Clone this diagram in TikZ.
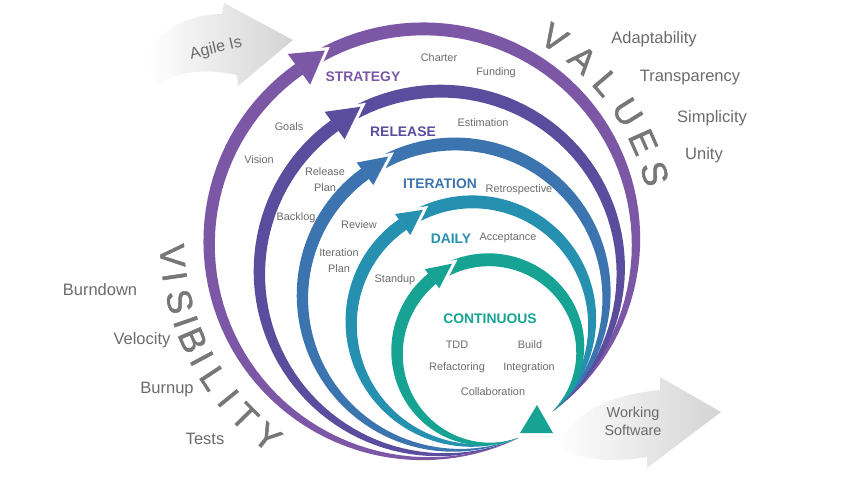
\documentclass[tikz,border=0pt]{standalone}
\usepackage{fontspec}
\setmainfont{Liberation Sans}
\newfontfamily\bigletters[FakeBold=1.4]{Liberation Sans}
\definecolor{strategyc}{HTML}{7B57A6}
\definecolor{releasec}{HTML}{5A4D9E}
\definecolor{iterationc}{HTML}{3C74AF}
\definecolor{dailyc}{HTML}{2690B1}
\definecolor{contc}{HTML}{17A394}
\definecolor{txtgray}{HTML}{6B6B6B}
\definecolor{biggray}{HTML}{777777}
\begin{document}
\begin{tikzpicture}[x=0.02cm, y=-0.02cm,
    lbl/.style={text=txtgray, font=\fontsize{6.2}{9}\selectfont, align=center, inner sep=0pt},
    phase/.style={font=\fontsize{7.9}{9}\selectfont\bfseries, inner sep=0pt},
    side/.style={text=txtgray, font=\fontsize{9.4}{11}\selectfont, inner sep=0pt},
    bigl/.style={text=biggray, font=\bigletters\fontsize{20}{20}\selectfont, inner sep=0pt},
    swoosh/.style={left color=white, right color=black!17},
    declare function={
      st(\t)=(\az-\t)/(\az-\ah);
      sb(\t)=(\ah-\t)/(\ah-\ax);
      rt(\t)=\rz+(\rr-\rz)*st(\t);
      wt(\t)=\bw*sin(90*st(\t));
      rb(\t)=\rr+(\rx-\rr)*sb(\t)^2;
      wb(\t)=\bw*(1-sb(\t)^3);
    }]
  \useasboundingbox (0,0) rectangle (850,478);
  \pgfmathsetmacro{\bw}{13}
  % gray arrows
  \shade[swoosh] (148,50) .. controls (165,25) and (195,14) .. (222,14) -- (224,3) -- (293,40)
    -- (238,86) -- (237,75) .. controls (205,68) and (175,72) .. (158,84) .. controls (146,74) .. (148,50) -- cycle;
  \shade[swoosh] (556,447) .. controls (572,415) and (605,395) .. (660,390) -- (660,377) -- (721,412)
    -- (647,468) -- (647,457) .. controls (612,463) and (580,460) .. (556,447) -- cycle;
  \node[text=txtgray, font=\fontsize{9.2}{11}\selectfont, rotate=13] (agile) at (216,49) {Agile Is};
  \node[text=txtgray, font=\fontsize{8.2}{10.2}\selectfont, align=center] (working) at (633,421) {Working\\Software};
  % rings, outside in
  \foreach \cx/\cy/\rr/\col/\az/\rz/\ah/\hw/\hl/\ax/\rx in {
      423/240/211/strategyc/295.6/220/126/19/32/-53/215,
      441/272/181/releasec/294.9/183/126/17/32/-51/178.5,
      455/295/151/iterationc/293.8/156/126.6/14/29/-50/152,
      472/320/118/dailyc/291.3/126.6/126/13/25/-48/122,
      491/357/98/contc/288.4/85.4/127/12/25/-41/82}{
    % tail
    \fill[\col] plot[variable=\t, domain=\az:\ah, samples=60] ({\cx+(rt(\t)+wt(\t)/2)*cos(\t)}, {\cy-(rt(\t)+wt(\t)/2)*sin(\t)})
      -- plot[variable=\t, domain=\ah:\az, samples=60] ({\cx+(rt(\t)-wt(\t)/2)*cos(\t)}, {\cy-(rt(\t)-wt(\t)/2)*sin(\t)}) -- cycle;
    % body
    \fill[\col] plot[variable=\t, domain=\ah:\ax, samples=60] ({\cx+(rb(\t)+wb(\t)/2)*cos(\t)}, {\cy-(rb(\t)+wb(\t)/2)*sin(\t)})
      -- plot[variable=\t, domain=\ax:\ah, samples=60] ({\cx+(rb(\t)-wb(\t)/2)*cos(\t)}, {\cy-(rb(\t)-wb(\t)/2)*sin(\t)}) -- cycle;
    % head
    \coordinate (ho) at ({\cx+(\rr+\hw)*cos(\ah)}, {\cy-(\rr+\hw)*sin(\ah)});
    \coordinate (hi) at ({\cx+(\rr-\hw)*cos(\ah)}, {\cy-(\rr-\hw)*sin(\ah)});
    \coordinate (ht) at ({\cx+\rr*cos(\ah)+\hl*sin(\ah)}, {\cy-\rr*sin(\ah)+\hl*cos(\ah)});
    \draw[white, line width=3.5pt, line join=miter] (ho) -- (ht) -- (hi);
    \fill[\col] (ho) -- (ht) -- (hi) -- cycle;
  }
  \fill[contc] (537,405) -- (553,433) -- (520,433) -- cycle;
  % phases and practices
  \node[phase, text=strategyc] (strategy) at (363,77) {STRATEGY};
  \node[lbl] (charter) at (439,58) {Charter};
  \node[lbl] (funding) at (496,73) {Funding};
  \node[lbl] (goals) at (289,127) {Goals};
  \node[lbl] (vision) at (259,160) {Vision};
  \node[phase, text=releasec] (release) at (403,132) {RELEASE};
  \node[lbl] (estimation) at (483,123) {Estimation};
  \node[lbl] (releaseplan) at (325,180) {Release\\Plan};
  \node[phase, text=iterationc] (iteration) at (440,184) {ITERATION};
  \node[lbl] (retro) at (519,190) {Retrospective};
  \node[lbl] (backlog) at (296,218) {Backlog};
  \node[lbl] (review) at (359,225) {Review};
  \node[phase, text=dailyc] (daily) at (451,239) {DAILY};
  \node[lbl] (acceptance) at (508,238) {Acceptance};
  \node[lbl] (iterplan) at (339,261) {Iteration\\Plan};
  \node[lbl] (standup) at (395,280) {Standup};
  \node[phase, text=contc] (continuous) at (490,319) {CONTINUOUS};
  \node[lbl] (tdd) at (457,345) {TDD};
  \node[lbl] (build) at (530,345) {Build};
  \node[lbl] (refactoring) at (457,368) {Refactoring};
  \node[lbl] (integration) at (529,368) {Integration};
  \node[lbl] (collab) at (493,392) {Collaboration};
  % values and visibility
  \node[side] (adapt) at (654,39) {Adaptability};
  \node[side] (transp) at (690,78) {Transparency};
  \node[side] (simpl) at (712,118) {Simplicity};
  \node[side] (unity) at (704,155) {Unity};
  \node[side] (burndown) at (100,290) {Burndown};
  \node[side] (velocity) at (142,340) {Velocity};
  \node[side] (burnup) at (167,390) {Burnup};
  \node[side] (tests) at (205,439) {Tests};
  \foreach \ch/\ang [count=\i] in {V/57, A/48.5, L/40.5, U/32, E/24, S/16}
    \node[bigl, rotate=\ang-90] (val\i) at ({423+241*cos(\ang)}, {240-241*sin(\ang)}) {\ch};
  \foreach \ch/\ang [count=\i] in {V/183.6, I/188.4, S/194.2, I/199, B/203.5, I/208.2, L/213.4, I/219.1, T/224.7, Y/231.7}
    \node[bigl, rotate=\ang+90] (vis\i) at ({423+251*cos(\ang)}, {240-251*sin(\ang)}) {\ch};
\end{tikzpicture}
\end{document}
